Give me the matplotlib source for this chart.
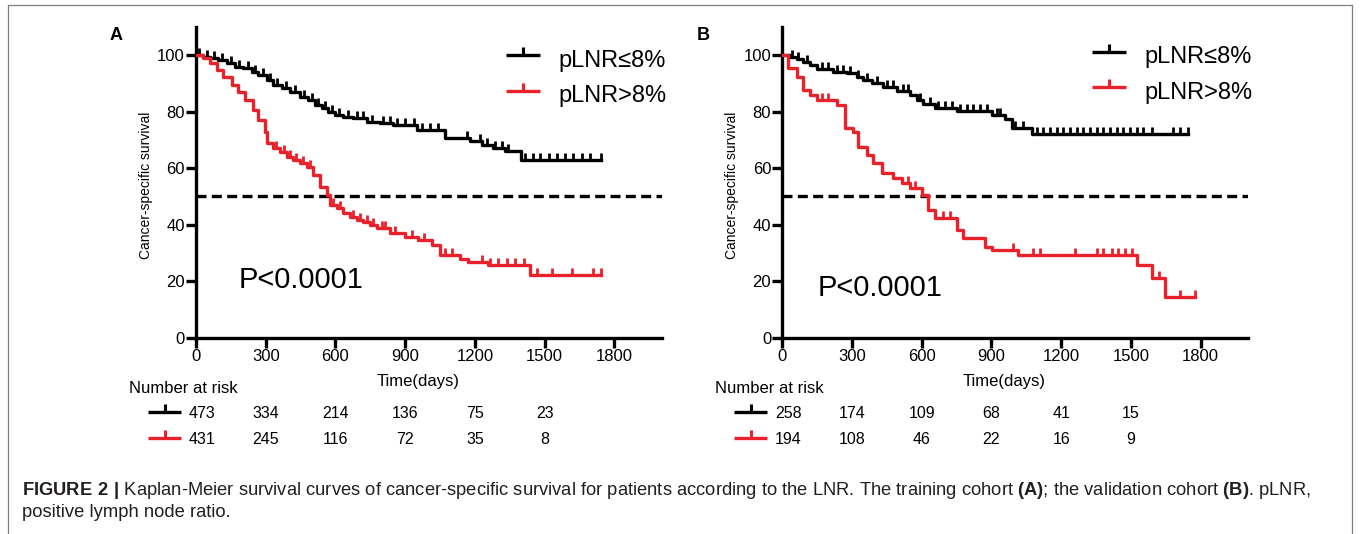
import numpy as np
import matplotlib.pyplot as plt
from matplotlib.lines import Line2D
from matplotlib import transforms

plt.rcParams['font.family'] = ['Liberation Sans', 'DejaVu Sans']
plt.rcParams['mathtext.fontset'] = 'custom'
plt.rcParams['mathtext.rm'] = 'Liberation Sans'
plt.rcParams['mathtext.bf'] = 'Liberation Sans:bold'

RED = '#e8212b'
BLACK = '#000000'

# ---- data ----
labels = ['pLNR≤8%', 'pLNR>8%']
risk_times = [0, 300, 600, 900, 1200, 1500]

# training cohort (A)
a_low_t = [0, 31, 60, 96, 132, 168, 204, 240, 268, 304, 333, 369, 405, 448, 484, 512, 541,
           570, 598, 634, 677, 735, 792, 849, 950, 1072, 1180, 1230, 1280, 1330, 1400]
a_low_s = [100, 99.4, 98.8, 98.2, 97.1, 95.9, 95.3, 94.1, 92.9, 91.2, 89.4, 88.2, 87.0, 85.2,
           84.1, 82.3, 81.1, 79.9, 78.8, 78.2, 77.6, 76.4, 75.8, 75.2, 73.5, 70.6, 69.4, 68.2,
           67.2, 66.1, 63.0]
a_low_cens = [15, 46, 78, 112, 150, 186, 222, 254, 288, 318, 350, 386, 425, 465, 498, 527, 555,
              584, 615, 655, 692, 720, 756, 806, 835, 864, 900, 936, 971, 1007, 1043, 1165,
              1223, 1251, 1287, 1316, 1344, 1416, 1452, 1481, 1517, 1553, 1588, 1624, 1660,
              1696, 1742]
a_high_t = [0, 31, 60, 89, 118, 154, 182, 211, 247, 268, 297, 304, 333, 362, 390, 419, 448,
            476, 505, 534, 563, 577, 606, 634, 663, 692, 720, 749, 778, 835, 900, 957, 1014,
            1050, 1136, 1172, 1258, 1438]
a_high_s = [100, 98.8, 97.0, 94.7, 92.3, 89.4, 87.0, 84.1, 80.5, 77.0, 72.9, 68.8, 67.0, 65.8,
            64.0, 62.9, 61.7, 60.5, 57.6, 53.4, 50.5, 46.9, 45.8, 44.0, 42.8, 41.6, 41.0, 39.9,
            38.7, 36.9, 35.7, 34.6, 32.8, 29.3, 27.7, 26.9, 25.7, 22.2]
a_high_cens = [345, 378, 405, 432, 462, 492, 591, 620, 677, 706, 735, 763, 799, 813, 857, 928,
               979, 1072, 1101, 1230, 1266, 1301, 1338, 1374, 1410, 1466, 1531, 1617, 1710, 1742]
a_risk_low = [473, 334, 214, 136, 75, 23]
a_risk_high = [431, 245, 116, 72, 35, 8]

# validation cohort (B)
b_low_t = [0, 33, 62, 90, 119, 148, 219, 277, 320, 348, 384, 434, 492, 549, 578, 606, 657,
           750, 901, 958, 987, 1073]
b_low_s = [100, 99.4, 98.5, 97.6, 96.5, 94.9, 94.1, 93.5, 92.3, 91.2, 90.0, 88.8, 87.4, 85.9,
           84.1, 82.7, 81.1, 80.3, 78.8, 77.2, 74.1, 72.2]
b_low_cens = [40, 69, 105, 169, 198, 234, 262, 291, 327, 363, 406, 449, 478, 521, 542, 592,
              635, 671, 700, 728, 764, 793, 822, 850, 879, 922, 936, 1001, 1037, 1094, 1123,
              1151, 1180, 1209, 1237, 1266, 1295, 1323, 1352, 1381, 1409, 1438, 1467, 1495,
              1524, 1553, 1589, 1682, 1710, 1746]
b_high_t = [0, 26, 62, 90, 119, 148, 234, 270, 306, 327, 363, 392, 427, 478, 513, 549, 599,
            628, 657, 750, 779, 872, 901, 1015, 1524, 1589, 1646]
b_high_s = [100, 95.3, 92.3, 87.6, 85.9, 84.1, 82.3, 74.1, 72.9, 67.6, 64.6, 61.7, 58.1, 56.4,
            54.6, 52.8, 50.5, 45.2, 42.2, 38.1, 35.2, 32.2, 31.0, 29.3, 25.7, 21.0, 14.5]
b_high_cens = [169, 198, 542, 571, 693, 721, 991, 1080, 1108, 1259, 1352, 1381, 1417, 1445,
               1474, 1503, 1620, 1711, 1775]
b_risk_low = [258, 174, 109, 68, 41, 15]
b_risk_high = [194, 108, 46, 22, 16, 9]

caption_1 = (r'$\mathbf{FIGURE\ 2\ |}$ Kaplan-Meier survival curves of cancer-specific survival '
             r'for patients according to the LNR. The training cohort $\mathbf{(A)}$; the '
             r'validation cohort $\mathbf{(B)}$. pLNR,')
caption_2 = 'positive lymph node ratio.'

# ---- layout (pixels of a 1360 x 534 canvas) ----
W, H = 1360, 534


def fx(x):
    return x / W


def fy(y):
    return 1 - y / H


fig = plt.figure(figsize=(13.6, 5.34), dpi=100)


def surv_at(t, s, x):
    i = np.searchsorted(t, x, side='right') - 1
    return np.asarray(s)[i]


def sample(x0, x1, y, color):
    fig.add_artist(Line2D([fx(x0), fx(x1)], [fy(y), fy(y)], color=color, lw=2.4,
                          solid_capstyle='butt', transform=fig.transFigure))
    fig.add_artist(Line2D([fx((x0 + x1) / 2)], [fy(y)], color=color, marker=2, ms=5.5,
                          mew=2.2, transform=fig.transFigure))


def panel(left, letter, curves, risks, leg_y, p_xy):
    ax = fig.add_axes([fx(left), fy(337.7), 466 / W, (337.7 - 26.7) / H])
    ax.axhline(50, color='k', lw=2.4, dashes=(3, 1.6), zorder=1)
    for (t, s, c), color in zip(curves, [BLACK, RED]):
        cy = surv_at(t, s, c)
        tt = list(t) + [max(c)]
        ss = list(s) + [s[-1]]
        ax.step(tt, ss, where='post', color=color, lw=2.4, zorder=3)
        ax.plot(c, cy, ls='none', marker=2, ms=5, mew=2.0, color=color, zorder=3)
    ax.set_xlim(0, 2005)
    ax.set_ylim(0, 110)
    ax.set_xticks([0, 300, 600, 900, 1200, 1500, 1800])
    ax.set_yticks([0, 20, 40, 60, 80, 100])
    for sp in ['top', 'right']:
        ax.spines[sp].set_visible(False)
    for sp in ['left', 'bottom']:
        ax.spines[sp].set_linewidth(2.4)
    ax.tick_params(direction='out', length=7, width=2.4, labelsize=12, pad=1)

    fig.text(fx(left - 50), fy(185.5), 'Cancer-specific survival', rotation=90,
             ha='center', va='center', fontsize=10)
    fig.text(fx(left + 222), fy(386), 'Time(days)', ha='center', va='baseline', fontsize=12)
    fig.text(fx(left - 86), fy(39.5), letter, ha='left', va='baseline', fontsize=13,
             fontweight='bold')
    fig.text(fx(left + p_xy[0]), fy(p_xy[1]), 'P<0.0001', ha='left', va='baseline',
             fontsize=21)

    # legend
    for i, (lab, color) in enumerate(zip(labels, [BLACK, RED])):
        y = leg_y + 35.5 * i
        sample(left + 310, left + 344, y, color)
        fig.text(fx(left + 362), fy(y + 11.7), lab, ha='left', va='baseline', fontsize=17)

    # number at risk table
    fig.text(fx(left - 67), fy(393.3), 'Number at risk', ha='left', va='baseline', fontsize=12)
    tr = transforms.blended_transform_factory(ax.transData, fig.transFigure)
    for j, (row, color) in enumerate(zip(risks, [BLACK, RED])):
        yc = 412.3 + 26 * j
        sample(left - 48, left - 15, yc, color)
        for t, n in zip(risk_times, row):
            fig.text(t + (25 if t == 0 else 0), fy(yc + 6), str(n), transform=tr,
                     ha='center', va='baseline', fontsize=11.5)
    return ax


panel(196, 'A', [(a_low_t, a_low_s, a_low_cens), (a_high_t, a_high_s, a_high_cens)],
      [a_risk_low, a_risk_high], 55, (43, 288.3))
panel(782.3, 'B', [(b_low_t, b_low_s, b_low_cens), (b_high_t, b_high_s, b_high_cens)],
      [b_risk_low, b_risk_high], 51.5, (35, 296))

# caption
fig.text(fx(21.7), fy(495), caption_1, fontsize=13.2, color='#231f20', ha='left', va='baseline')
fig.text(fx(21.7), fy(517), caption_2, fontsize=13.2, color='#231f20', ha='left',
         va='baseline')

# frame
for xs, ys in [([8, 1352], [5.3, 5.3]), ([8, 8], [5.3, 534]), ([1352, 1352], [5.3, 534])]:
    fig.add_artist(Line2D([fx(x) for x in xs], [fy(y) for y in ys], color='#808080', lw=0.9,
                          transform=fig.transFigure))

fig.savefig('out.png', dpi=100)
